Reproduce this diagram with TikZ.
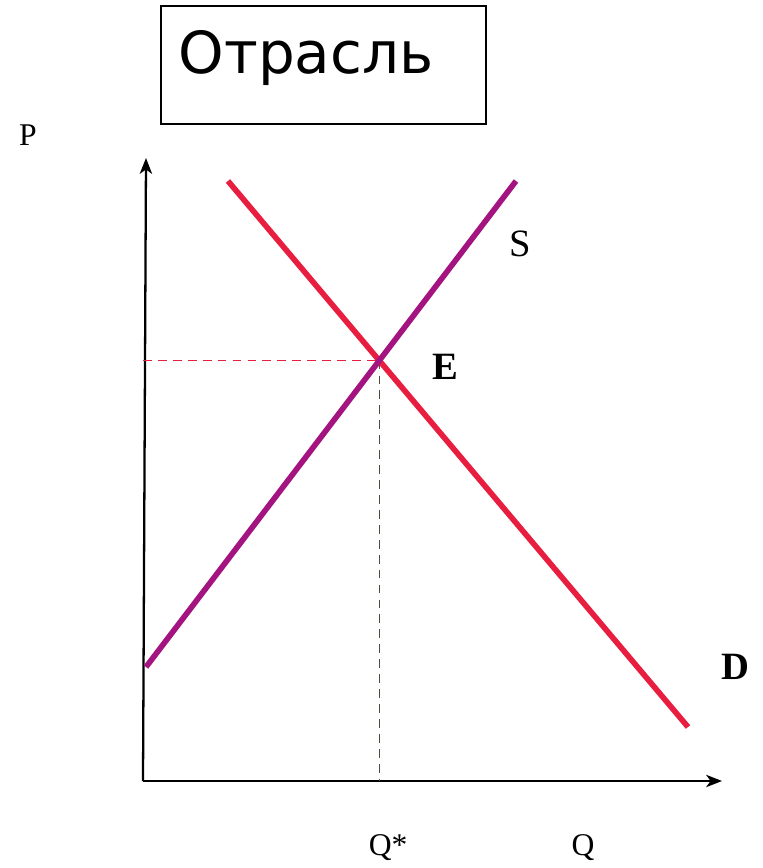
\documentclass[tikz,border=0pt]{standalone}
\usepackage{fontspec}
\setmainfont{Liberation Serif}
\newfontfamily\titlefont{DejaVu Sans}
\usetikzlibrary{arrows.meta}
\definecolor{demandred}{RGB}{232,30,64}
\definecolor{supplypurple}{RGB}{164,20,128}
\definecolor{guidegray}{RGB}{80,76,60}
\tikzset{
  axis/.style={line width=1.3pt, -{Stealth[length=9pt,width=7pt,inset=2.5pt]}},
  curve/.style={line width=3.2pt},
  guide/.style={line width=0.9pt, dash pattern=on 5pt off 3.5pt},
  lbl/.style={font=\fontsize{18}{20}\selectfont, inner sep=0pt},
  biglbl/.style={font=\fontsize{22}{24}\selectfont, inner sep=0pt}
}
\begin{document}
\begin{tikzpicture}[x=0.02cm, y=-0.02cm]
\useasboundingbox[fill=white] (0,0) rectangle (763,868);

% title box
\draw[line width=1.1pt] (161,6) rectangle (486,124);
\node[inner sep=0pt] (title) at (306,58) {\titlefont\fontsize{33}{36}\selectfont Отрасль};

% axes
\coordinate (origin) at (143,781);
\coordinate (ytop) at (146,158);
\coordinate (xend) at (722,781);
\draw[axis] (origin) -- (ytop);
\draw[axis] (origin) -- (xend);
\node[lbl] (plabel) at (28,135) {P};
\node[lbl] (qlabel) at (583,848) {Q};

% demand and supply
\coordinate (d1) at (228,181);
\coordinate (d2) at (688,727);
\coordinate (s1) at (146,667);
\coordinate (s2) at (516,181);
\coordinate (eq) at (intersection of d1--d2 and s1--s2);
\coordinate (eqp) at (origin |- eq);
\coordinate (eqq) at (eq |- origin);

\draw[guide, demandred] (eqp) -- (eq);
\draw[guide, guidegray] (eq) -- (eqq);
\draw[curve, demandred] (d1) -- (d2);
\draw[curve, supplypurple] (s1) -- (s2);

\node[biglbl] (slabel) at (520,244) {S};
\node[biglbl, font=\fontsize{22}{24}\selectfont\bfseries] (elabel) at (445,367) {E};
\node[biglbl, font=\fontsize{22}{24}\selectfont\bfseries] (dlabel) at (735,667) {D};
\node[lbl] (qstar) at ([xshift=5]eqq |- qlabel) {Q*};
\end{tikzpicture}
\end{document}
